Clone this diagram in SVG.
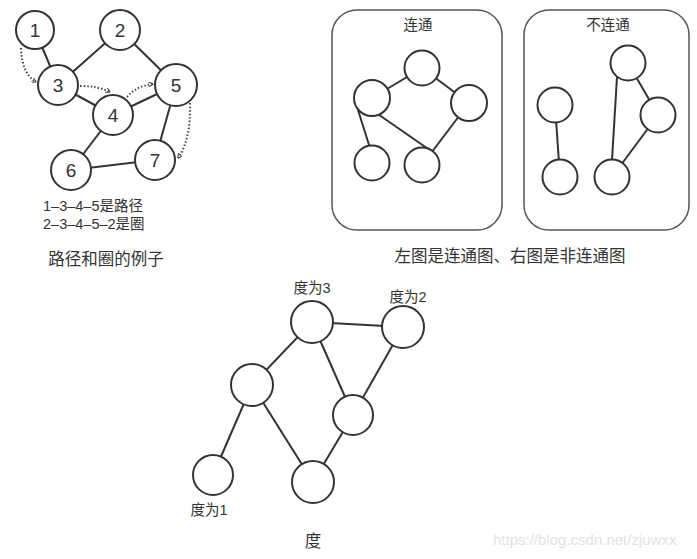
<svg xmlns="http://www.w3.org/2000/svg" width="697" height="559" viewBox="0 0 697 559">
<style>
.n{fill:#fff;stroke:#333;stroke-width:2}
.e{stroke:#333;stroke-width:2;fill:none}
.d{stroke:#444;stroke-width:2;fill:none;stroke-dasharray:1.5 2;marker-end:url(#ah)}
.box{fill:none;stroke:#555;stroke-width:1.5}
.num{font-family:"Liberation Sans","Noto Sans",sans-serif;font-size:19px;fill:#333;text-anchor:middle}
.t{font-family:"Liberation Sans","Noto Sans CJK SC",sans-serif;font-size:14.5px;fill:#333}
.c{font-family:"Noto Sans CJK SC",sans-serif;font-size:16.5px;fill:#333;text-anchor:middle}
.l{font-family:"Liberation Sans","Noto Sans CJK SC",sans-serif;font-size:14.5px;fill:#333;text-anchor:middle}
.w{font-family:"Liberation Sans",Arial,sans-serif;font-size:15px;fill:#e2e2e2}
</style>
<defs>
<marker id="ah" viewBox="0 0 10 10" refX="9" refY="5" markerWidth="5" markerHeight="5" orient="auto" markerUnits="userSpaceOnUse">
<path d="M0,0 L10,5 L0,10" fill="none" stroke="#444" stroke-width="2"/>
</marker>
</defs>
<rect width="697" height="559" fill="#fff"/>

<g id="box-connected"><rect class="box" x="332" y="10" width="170" height="220" rx="25"/><text class="l" x="418" y="30">连通</text></g>
<g id="box-disconnected"><rect class="box" x="524" y="10" width="165" height="220" rx="25"/><text class="l" x="608" y="30">不连通</text></g>

<g id="connectors">
<!-- graph 1 -->
<line class="e" x1="35" y1="30" x2="58" y2="85"/>
<line class="e" x1="120" y1="30" x2="58" y2="85"/>
<line class="e" x1="120" y1="30" x2="176" y2="85"/>
<line class="e" x1="58" y1="85" x2="113" y2="115"/>
<line class="e" x1="113" y1="115" x2="176" y2="85"/>
<line class="e" x1="113" y1="115" x2="71" y2="170"/>
<line class="e" x1="71" y1="170" x2="155" y2="160"/>
<line class="e" x1="176" y1="85" x2="155" y2="160"/>
<path class="d" d="M21,48 Q22,74 36,82"/>
<path class="d" d="M80,86 Q98,86 110,92"/>
<path class="d" d="M127,97 Q136,86 153,84"/>
<path class="d" d="M190,103 Q191,140 178,158"/>
<!-- connected -->
<line class="e" x1="372" y1="98" x2="422" y2="68"/>
<line class="e" x1="422" y1="68" x2="469" y2="103"/>
<line class="e" x1="358" y1="110" x2="370" y2="148"/>
<line class="e" x1="372" y1="110" x2="434" y2="153"/>
<line class="e" x1="469" y1="103" x2="422" y2="165"/>
<!-- disconnected -->
<line class="e" x1="555" y1="105" x2="560" y2="177"/>
<line class="e" x1="628" y1="63" x2="658" y2="115"/>
<line class="e" x1="658" y1="115" x2="612" y2="177"/>
<line class="e" x1="617" y1="77" x2="612" y2="160"/>
<!-- degree -->
<line class="e" x1="312" y1="322" x2="403" y2="327"/>
<line class="e" x1="312" y1="322" x2="252" y2="385"/>
<line class="e" x1="312" y1="322" x2="353" y2="415"/>
<line class="e" x1="403" y1="327" x2="353" y2="415"/>
<line class="e" x1="252" y1="385" x2="213" y2="475"/>
<line class="e" x1="252" y1="385" x2="313" y2="482"/>
<line class="e" x1="353" y1="415" x2="313" y2="482"/>
</g>

<g id="g1-n1"><circle class="n" cx="35" cy="30" r="19"/><text class="num" x="35" y="37">1</text></g>
<g id="g1-n2"><circle class="n" cx="120" cy="30" r="20"/><text class="num" x="120" y="37">2</text></g>
<g id="g1-n3"><circle class="n" cx="58" cy="85" r="20"/><text class="num" x="58" y="92">3</text></g>
<g id="g1-n4"><circle class="n" cx="113" cy="115" r="20"/><text class="num" x="113" y="122">4</text></g>
<g id="g1-n5"><circle class="n" cx="176" cy="85" r="21"/><text class="num" x="176" y="92">5</text></g>
<g id="g1-n6"><circle class="n" cx="71" cy="170" r="20"/><text class="num" x="71" y="177">6</text></g>
<g id="g1-n7"><circle class="n" cx="155" cy="160" r="20"/><text class="num" x="155" y="167">7</text></g>
<g id="g1-text">
<text class="t" x="43" y="211">1–3–4–5是路径</text>
<text class="t" x="43" y="229">2–3–4–5–2是圈</text>
<text class="c" x="106" y="265">路径和圈的例子</text>
</g>

<g id="c-n1"><circle class="n" cx="422" cy="68" r="17.5"/></g>
<g id="c-n2"><circle class="n" cx="372" cy="98" r="18"/></g>
<g id="c-n3"><circle class="n" cx="469" cy="103" r="18"/></g>
<g id="c-n4"><circle class="n" cx="372" cy="163" r="17.5"/></g>
<g id="c-n5"><circle class="n" cx="422" cy="165" r="17.5"/></g>

<g id="d-n1"><circle class="n" cx="555" cy="105" r="17.5"/></g>
<g id="d-n2"><circle class="n" cx="560" cy="177" r="17.5"/></g>
<g id="d-n3"><circle class="n" cx="628" cy="63" r="17.5"/></g>
<g id="d-n4"><circle class="n" cx="658" cy="115" r="17.5"/></g>
<g id="d-n5"><circle class="n" cx="612" cy="177" r="17.5"/></g>
<text class="c" x="510" y="262">左图是连通图、右图是非连通图</text>

<g id="deg-n1"><circle class="n" cx="312" cy="322" r="21"/><text class="l" x="312" y="293">度为3</text></g>
<g id="deg-n2"><circle class="n" cx="403" cy="327" r="21"/><text class="l" x="408" y="302">度为2</text></g>
<g id="deg-n3"><circle class="n" cx="252" cy="385" r="21"/></g>
<g id="deg-n4"><circle class="n" cx="353" cy="415" r="20"/></g>
<g id="deg-n5"><circle class="n" cx="213" cy="475" r="20"/><text class="l" x="209" y="515">度为1</text></g>
<g id="deg-n6"><circle class="n" cx="313" cy="482" r="21"/></g>
<text class="c" x="313" y="547">度</text>
<text class="w" x="493" y="545">https://blog.csdn.net/zjuwxx</text>
</svg>
